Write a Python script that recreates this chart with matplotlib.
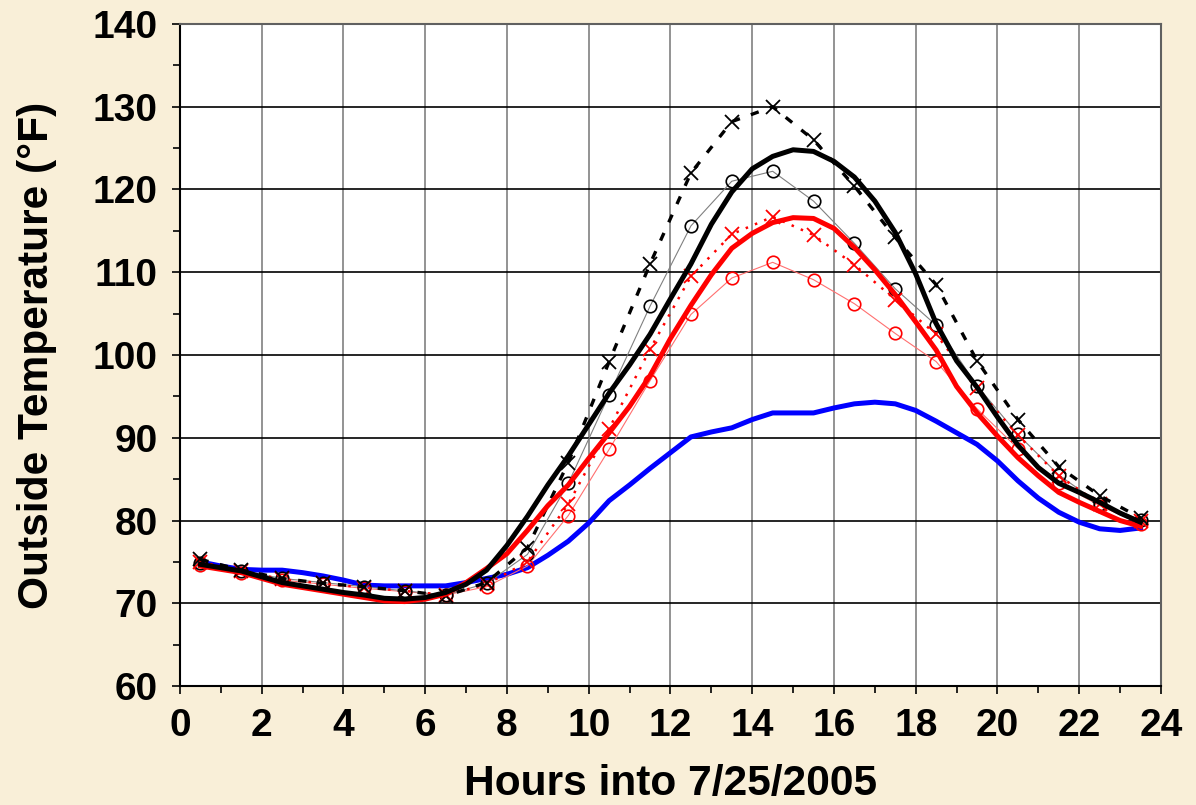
import matplotlib.pyplot as plt
import numpy as np

# hourly marker readings (half past each hour)
hours = [h + 0.5 for h in range(24)]
black_x = [75.3, 74.0, 73.0, 72.4, 72.0, 71.5, 70.9, 72.5, 76.7, 87.0, 99.2, 111.0,
           122.0, 128.2, 130.0, 126.0, 120.4, 114.2, 108.5, 99.3, 92.2, 86.5, 83.0, 80.3]
black_o = [74.9, 73.9, 73.0, 72.5, 72.0, 71.5, 71.0, 72.4, 75.9, 84.5, 95.2, 105.9,
           115.6, 121.0, 122.2, 118.6, 113.5, 108.0, 103.6, 96.3, 90.4, 85.5, 82.0, 80.1]
red_x = [75.0, 73.9, 72.9, 72.4, 71.9, 71.5, 71.0, 72.3, 75.0, 82.0, 91.1, 100.7,
         109.5, 114.6, 116.7, 114.5, 110.9, 106.7, 102.5, 96.0, 90.3, 85.4, 82.0, 79.9]
red_o = [74.6, 73.7, 72.8, 72.3, 71.8, 71.4, 71.0, 72.0, 74.5, 80.6, 88.6, 96.9,
         104.9, 109.3, 111.2, 109.1, 106.2, 102.6, 99.2, 93.5, 88.7, 84.5, 81.8, 79.6]

# half-hourly readings of the three continuous curves
t = [0.5, 1.0, 1.5, 2.0, 2.5, 3.0, 3.5, 4.0, 4.5, 5.0, 5.5, 6.0, 6.5, 7.0, 7.5, 8.0,
     8.5, 9.0, 9.5, 10.0, 10.5, 11.0, 11.5, 12.0, 12.5, 13.0, 13.5, 14.0, 14.5, 15.0,
     15.5, 16.0, 16.5, 17.0, 17.5, 18.0, 18.5, 19.0, 19.5, 20.0, 20.5, 21.0, 21.5,
     22.0, 22.5, 23.0, 23.5]
black_line = [74.7, 74.3, 73.9, 73.2, 72.5, 72.1, 71.7, 71.3, 71.0, 70.6, 70.5, 70.7,
              71.3, 72.3, 74.0, 77.0, 80.5, 84.3, 87.8, 91.6, 95.4, 98.8, 102.5, 106.8,
              111.0, 115.8, 119.7, 122.5, 124.0, 124.8, 124.6, 123.4, 121.5, 118.6,
              114.8, 109.8, 103.8, 99.3, 96.1, 92.5, 89.1, 86.4, 84.5, 83.4, 82.2,
              80.9, 79.8]
red_line = [74.5, 74.1, 73.7, 73.0, 72.3, 71.9, 71.5, 71.1, 70.7, 70.3, 70.2, 70.5,
            71.1, 72.5, 74.2, 76.0, 78.8, 81.8, 84.3, 87.5, 90.6, 93.8, 97.5, 102.0,
            106.0, 109.7, 112.9, 114.7, 116.0, 116.6, 116.5, 115.3, 113.0, 110.3,
            107.3, 104.0, 100.6, 96.2, 93.0, 90.2, 87.6, 85.4, 83.4, 82.2, 81.1,
            80.0, 79.3]
blue_line = [75.0, 74.5, 74.1, 74.0, 74.0, 73.7, 73.3, 72.8, 72.2, 72.1, 72.1, 72.1,
             72.1, 72.5, 73.0, 73.5, 74.3, 75.8, 77.5, 79.7, 82.4, 84.3, 86.3, 88.2,
             90.1, 90.7, 91.2, 92.2, 93.0, 93.0, 93.0, 93.6, 94.1, 94.3, 94.1, 93.3,
             92.0, 90.6, 89.2, 87.2, 84.8, 82.7, 81.0, 79.8, 79.0, 78.8, 79.1]

plt.rcParams['font.family'] = ['Liberation Sans', 'DejaVu Sans']

fig = plt.figure(figsize=(11.96, 8.05), dpi=100)
fig.patch.set_facecolor('#F9EFD8')
ax = fig.add_axes([0.1505, 0.1478, 0.8202, 0.8224])
ax.set_facecolor('white')

ax.plot(t, blue_line, color='#0000FF', lw=3.6, zorder=3)
ax.plot(hours, red_o, color='#FF7070', lw=0.8, marker='o', ms=9, mfc='none',
        mec='red', mew=1.2, zorder=4)
ax.plot(hours, black_o, color='#808080', lw=0.8, marker='o', ms=9, mfc='none',
        mec='black', mew=1.2, zorder=4)
ax.plot(hours, red_x, color='red', lw=1.8, ls=(0, (1, 3)), marker='x', ms=10,
        mew=1.3, zorder=5)
ax.plot(hours, black_x, color='black', lw=2.4, ls=(0, (2.5, 3.5)), marker='x', ms=10,
        mew=1.3, zorder=5)
ax.plot(t, red_line, color='red', lw=3.6, zorder=6)
ax.plot(t, black_line, color='black', lw=3.6, zorder=6)

ax.set_xlim(0, 24)
ax.set_ylim(60, 140)
ax.set_xticks(np.arange(0, 25, 2))
ax.set_xticks(np.arange(1, 24, 2), minor=True)
ax.set_yticks(np.arange(60, 141, 10))
ax.set_yticks(np.arange(65, 140, 10), minor=True)
ax.tick_params(axis='both', which='major', length=6, width=1.2, labelsize=28, pad=10)
ax.tick_params(axis='both', which='minor', length=5, width=1.2)
for lab in ax.get_xticklabels() + ax.get_yticklabels():
    lab.set_fontweight('bold')

ax.grid(True, axis='x', color='#808080', lw=1.2, zorder=0)
ax.grid(True, axis='y', color='black', lw=1.2, zorder=0)
ax.set_axisbelow(True)
for side in ['left', 'bottom']:
    ax.spines[side].set_linewidth(1.5)
    ax.spines[side].set_color('black')
for side in ['top', 'right']:
    ax.spines[side].set_linewidth(1.5)
    ax.spines[side].set_color('#606060')

ax.set_xlabel('Hours into 7/25/2005', fontsize=30.6, fontweight='bold')
ax.xaxis.set_label_coords(0.5, -0.164)
ax.xaxis.label.set_va('baseline')
ax.set_ylabel('Outside Temperature (\u00b0F)', fontsize=30.6, fontweight='bold')
ax.yaxis.set_label_coords(-0.125, 0.5)

plt.savefig('out.png', dpi=100, facecolor=fig.get_facecolor())
